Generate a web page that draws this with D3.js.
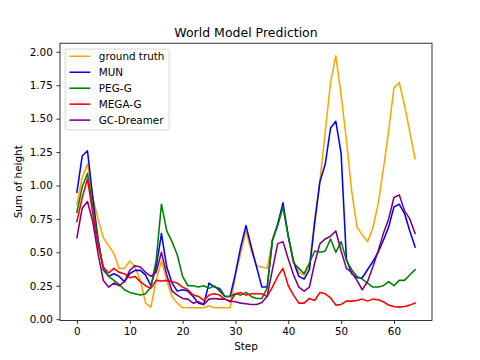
<!DOCTYPE html>
<html><head><meta charset="utf-8">
<script src="https://cdn.jsdelivr.net/npm/d3@7"></script>
<style>body{margin:0;background:#fff}svg{display:block}text{font-family:"DejaVu Sans",sans-serif;fill:#000}</style>
</head><body><svg id="c" width="480" height="360"></svg>
<script>
const steps = d3.range(0, 65);
const seriesNames = ["ground truth", "MUN", "PEG-G", "MEGA-G", "GC-Dreamer"];
const seriesColors = ["orange", "blue", "green", "red", "purple"];
const groundTruth = [0.86,1.06,1.16,0.91,0.75,0.61,0.55,0.49,0.38,0.38,0.435,0.39,0.29,0.12,0.09,0.29,0.435,0.29,0.17,0.12,
  0.085,0.085,0.085,0.085,0.085,0.10,0.085,0.085,0.085,0.085,0.33,0.49,0.66,0.51,0.40,0.39,0.38,0.59,0.71,0.84,
  0.62,0.44,0.35,0.33,0.40,0.75,1.04,1.40,1.77,1.97,1.68,1.34,0.96,0.69,0.63,0.58,0.68,0.86,1.12,1.41,
  1.73,1.77,1.60,1.40,1.20];
const mun = [0.95,1.22,1.26,0.91,0.60,0.37,0.32,0.34,0.32,0.28,0.34,0.365,0.365,0.33,0.25,0.39,0.64,0.39,0.27,0.21,
  0.22,0.21,0.17,0.12,0.11,0.27,0.24,0.23,0.17,0.17,0.34,0.54,0.70,0.54,0.39,0.24,0.24,0.59,0.71,0.87,
  0.62,0.43,0.32,0.30,0.37,0.72,1.03,1.16,1.43,1.48,1.24,0.45,0.34,0.31,0.31,0.37,0.43,0.50,0.59,0.69,
  0.84,0.86,0.79,0.66,0.54];
const pegG = [0.80,0.99,1.09,0.84,0.58,0.38,0.32,0.29,0.26,0.22,0.20,0.19,0.18,0.19,0.24,0.44,0.86,0.66,0.58,0.48,
  0.32,0.25,0.25,0.24,0.25,0.23,0.25,0.21,0.17,0.17,0.19,0.18,0.20,0.17,0.155,0.155,0.23,0.59,0.70,0.84,
  0.62,0.42,0.38,0.34,0.42,0.51,0.50,0.51,0.60,0.50,0.58,0.44,0.37,0.32,0.30,0.27,0.24,0.24,0.25,0.28,
  0.25,0.29,0.29,0.33,0.37];
const megaG = [0.73,0.91,1.05,0.79,0.55,0.39,0.345,0.38,0.35,0.34,0.31,0.32,0.28,0.25,0.23,0.29,0.285,0.29,0.28,0.27,
  0.24,0.22,0.18,0.17,0.14,0.18,0.19,0.18,0.15,0.13,0.19,0.20,0.18,0.19,0.19,0.19,0.17,0.24,0.32,0.38,
  0.25,0.18,0.12,0.12,0.155,0.14,0.20,0.19,0.16,0.105,0.11,0.135,0.135,0.14,0.15,0.135,0.15,0.145,0.13,0.105,
  0.095,0.09,0.095,0.105,0.12];
const gcDreamer = [0.61,0.83,0.88,0.73,0.49,0.29,0.24,0.27,0.25,0.28,0.365,0.40,0.39,0.35,0.32,0.35,0.50,0.33,0.21,0.18,
  0.155,0.15,0.12,0.13,0.11,0.15,0.155,0.15,0.15,0.135,0.13,0.12,0.115,0.11,0.11,0.125,0.17,0.37,0.565,0.58,
  0.45,0.33,0.24,0.21,0.24,0.42,0.565,0.60,0.62,0.66,0.51,0.38,0.35,0.29,0.22,0.28,0.39,0.51,0.64,0.75,
  0.91,0.93,0.81,0.75,0.64];
const yTicks = [0, 0.25, 0.5, 0.75, 1.0, 1.25, 1.5, 1.75, 2.0];
const xTicks = [0, 10, 20, 30, 40, 50, 60];
const allSeries = [groundTruth, mun, pegG, megaG, gcDreamer];

const svg = d3.select("#c");
const L = 60, R = 432, T = 43.2, B = 320.4;
const xs = d3.extent(steps), xpad = (xs[1]-xs[0])*0.05;
const x = d3.scaleLinear().domain([xs[0]-xpad, xs[1]+xpad]).range([L, R]);
const ys = d3.extent(allSeries.flat()), ypad = (ys[1]-ys[0])*0.05;
const y = d3.scaleLinear().domain([ys[0]-ypad, ys[1]+ypad]).range([B, T]);

const line = d3.line().x((d,i)=>x(steps[i])).y(d=>y(d));
const g = svg.append("g");
allSeries.forEach((s,k)=>{
  g.append("path").datum(s).attr("d", line).attr("fill","none")
   .attr("stroke", seriesColors[k]).attr("stroke-width",1.56)
   .attr("stroke-linejoin","round").attr("stroke-linecap","square");
});

const fs = "10.4px";
const xa = svg.append("g").attr("transform",`translate(0,${B})`)
  .call(d3.axisBottom(x).tickValues(xTicks).tickFormat(d3.format("d")).tickSizeOuter(0).tickSize(3.6).tickPadding(3.6));
const ya = svg.append("g").attr("transform",`translate(${L},0)`)
  .call(d3.axisLeft(y).tickValues(yTicks).tickFormat(d3.format(".2f")).tickSizeOuter(0).tickSize(3.6).tickPadding(3.6));
[xa, ya].forEach(a=>{
  a.select(".domain").remove();
  a.selectAll("line").attr("stroke","#000").attr("stroke-width",0.8);
  a.selectAll("text").attr("font-size",fs).attr("font-family","DejaVu Sans").attr("fill","#000");
});
svg.append("rect").attr("x",L).attr("y",T).attr("width",R-L).attr("height",B-T)
  .attr("fill","none").attr("stroke","#000").attr("stroke-width",0.8);

svg.append("text").attr("x",(L+R)/2).attr("y",37).attr("text-anchor","middle").attr("font-size","12.5px").text("World Model Prediction");
svg.append("text").attr("x",(L+R)/2).attr("y",349.5).attr("text-anchor","middle").attr("font-size",fs).text("Step");
svg.append("text").attr("transform",`translate(21.5,${(T+B)/2}) rotate(-90)`).attr("text-anchor","middle").attr("font-size",fs).text("Sum of height");

const lg = svg.append("g");
lg.append("rect").attr("x",65.2).attr("y",49).attr("width",104).attr("height",81).attr("rx",2.5)
  .attr("fill","#fff").attr("fill-opacity",0.8).attr("stroke","#cccccc").attr("stroke-width",0.8);
seriesNames.forEach((n,k)=>{
  const yy = 56.3 + k*15.95;
  lg.append("line").attr("x1",69.5).attr("x2",90.3).attr("y1",yy).attr("y2",yy)
    .attr("stroke",seriesColors[k]).attr("stroke-width",1.56);
  lg.append("text").attr("x",98.8).attr("y",yy).attr("dy","0.36em").attr("font-size",fs).text(n);
});
</script></body></html>
